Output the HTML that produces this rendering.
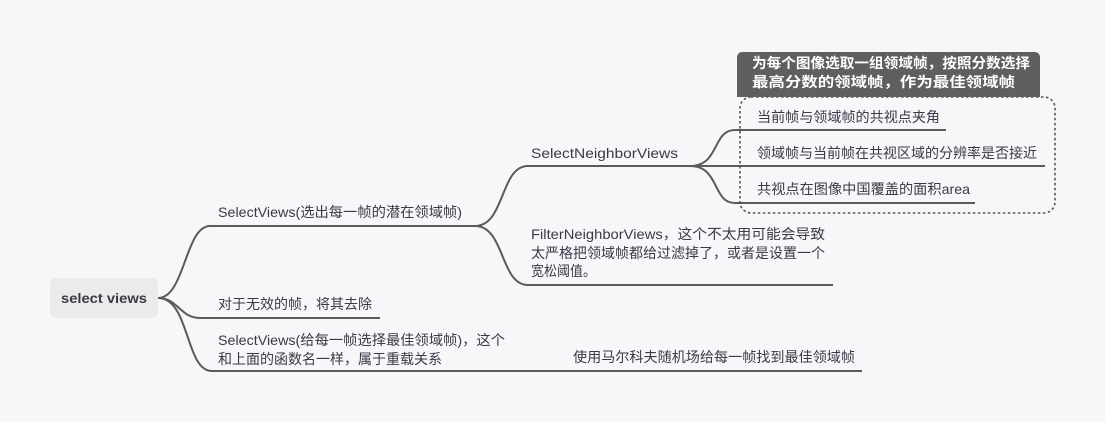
<!DOCTYPE html>
<html><head><meta charset="utf-8"><style>
html,body{margin:0;padding:0;background:#f6f7f9;}
svg{display:block;font-family:"Liberation Sans","Noto Sans CJK SC",sans-serif;}
</style></head><body>
<svg width="1105" height="422" viewBox="0 0 1105 422">
<rect width="1105" height="422" fill="#f6f7f9"/>
<g fill="none" stroke="#5a5a5a" stroke-width="2">
<path d="M158,298 C185,298 185,226 210,226 L475,226"/>
<path d="M158,298 C178,298 180,318 200,318 L380,318"/>
<path d="M158,298 C190,298 185,371 212,371 L862,371"/>
<path d="M475,226 C505,226 500,166 528,166 L695,166"/>
<path d="M475,226 C505,226 500,285 528,285 L833,285"/>
<path d="M690,166 C720,166 712,130 735,130 L946,130"/>
<path d="M690,166 L1045,166"/>
<path d="M690,166 C720,166 712,203 735,203 L975,203"/>
</g>
<rect x="740" y="97" width="315" height="116" rx="11" fill="none" stroke="#555" stroke-width="1.6" stroke-dasharray="2.5,2.5"/>
<rect x="737" y="52" width="303" height="45" rx="5" fill="#5f5f5f"/>
<rect x="737" y="85" width="303" height="12" fill="#5f5f5f"/>
<rect x="50" y="278" width="108" height="40" rx="6" fill="#ebebeb"/>
<g fill="#3a3a48" font-size="14" lengthAdjust="spacingAndGlyphs">
<text x="61" y="303" font-weight="bold" textLength="86" lengthAdjust="spacingAndGlyphs">select views</text>
<text x="218" y="217" textLength="244" lengthAdjust="spacingAndGlyphs">SelectViews(选出每一帧的潜在领域帧)</text>
<text x="218" y="309" textLength="154" lengthAdjust="spacingAndGlyphs">对于无效的帧，将其去除</text>
<text x="218" y="345" textLength="287" lengthAdjust="spacingAndGlyphs">SelectViews(给每一帧选择最佳领域帧)，这个</text>
<text x="218" y="364" textLength="224" lengthAdjust="spacingAndGlyphs">和上面的函数名一样，属于重载关系</text>
<text x="531" y="158" textLength="147" lengthAdjust="spacingAndGlyphs">SelectNeighborViews</text>
<text x="531" y="239" textLength="294" lengthAdjust="spacingAndGlyphs">FilterNeighborViews，这个不太用可能会导致</text>
<text x="531" y="258" textLength="294" lengthAdjust="spacingAndGlyphs">太严格把领域帧都给过滤掉了，或者是设置一个</text>
<text x="531" y="276" textLength="65" lengthAdjust="spacingAndGlyphs">宽松阈值。</text>
<text x="573" y="362" textLength="282" lengthAdjust="spacingAndGlyphs">使用马尔科夫随机场给每一帧找到最佳领域帧</text>
<text x="757" y="122" textLength="183" lengthAdjust="spacingAndGlyphs">当前帧与领域帧的共视点夹角</text>
<text x="757" y="158" textLength="280" lengthAdjust="spacingAndGlyphs">领域帧与当前帧在共视区域的分辨率是否接近</text>
<text x="757" y="194" textLength="213" lengthAdjust="spacingAndGlyphs">共视点在图像中国覆盖的面积area</text>
</g>
<g fill="#fff" font-size="14" font-weight="bold">
<text x="752" y="68" textLength="278" lengthAdjust="spacingAndGlyphs">为每个图像选取一组领域帧，按照分数选择</text>
<text x="752" y="87" textLength="263" lengthAdjust="spacingAndGlyphs">最高分数的领域帧，作为最佳领域帧</text>
</g>
</svg>
</body></html>
